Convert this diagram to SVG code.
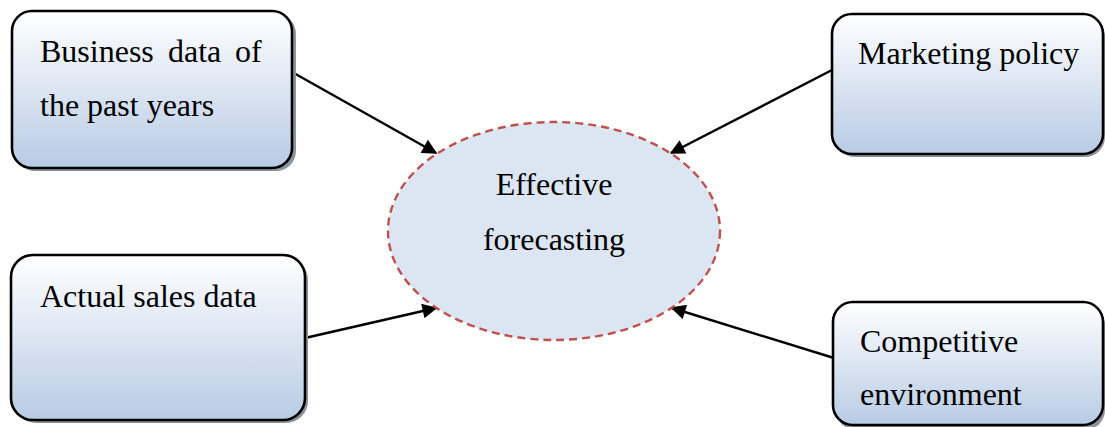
<svg xmlns="http://www.w3.org/2000/svg" width="1105" height="427" viewBox="0 0 1105 427">
  <style>
    .box { fill: url(#boxFill); stroke: #000; stroke-width: 2.6; }
    .shadow { fill: #8c949e; }
    .label { font-family: "Liberation Serif", "Times New Roman", serif; font-size: 32px; fill: #000; }
    .link { stroke: #000; stroke-width: 2.4; fill: none; marker-end: url(#arrow); }
  </style>
  <defs>
    <linearGradient id="boxFill" x1="0" y1="0" x2="0" y2="1">
      <stop offset="0" stop-color="#ffffff"/>
      <stop offset="0.35" stop-color="#e6edf6"/>
      <stop offset="1" stop-color="#b8cbe4"/>
    </linearGradient>
    <marker id="arrow" viewBox="0 0 10 10" refX="9" refY="5" markerWidth="18" markerHeight="15" markerUnits="userSpaceOnUse" orient="auto">
      <path d="M0,0 L10,5 L0,10 z" fill="#000"/>
    </marker>
  </defs>

  <!-- connectors -->
  <g id="connectors">
    <line class="link" x1="292" y1="72" x2="436" y2="153"/>
    <line class="link" x1="832" y1="70" x2="671" y2="153"/>
    <line class="link" x1="305" y1="338" x2="436" y2="308"/>
    <line class="link" x1="834" y1="358" x2="672" y2="308"/>
  </g>

  <!-- centre ellipse -->
  <g id="effective-forecasting">
    <ellipse cx="554" cy="231" rx="166" ry="109" fill="#dce6f2" stroke="#c0504d" stroke-width="2.4" stroke-dasharray="8,5"/>
    <text class="label" x="554" y="195" text-anchor="middle">Effective</text>
    <text class="label" x="554" y="250" text-anchor="middle">forecasting</text>
  </g>

  <g id="business-data">
    <rect class="shadow" x="15" y="14" width="281" height="157" rx="20"/>
    <rect class="box" x="12" y="11" width="280" height="157" rx="20"/>
    <text class="label" x="40" y="62">Business</text>
    <text class="label" x="168" y="62">data</text>
    <text class="label" x="235" y="62">of</text>
    <text class="label" x="40" y="116">the past years</text>
  </g>

  <g id="marketing-policy">
    <rect class="shadow" x="835" y="17" width="270" height="140" rx="20"/>
    <rect class="box" x="832" y="14" width="271" height="140" rx="20"/>
    <text class="label" x="858" y="64">Marketing policy</text>
  </g>

  <g id="actual-sales">
    <rect class="shadow" x="14" y="258" width="294" height="165" rx="22"/>
    <rect class="box" x="11" y="255" width="294" height="165" rx="22"/>
    <text class="label" x="40" y="307">Actual sales data</text>
  </g>

  <g id="competitive-environment">
    <rect class="shadow" x="836" y="305" width="269" height="125" rx="20"/>
    <rect class="box" x="833" y="302" width="270" height="123" rx="20"/>
    <text class="label" x="860" y="352">Competitive</text>
    <text class="label" x="860" y="405">environment</text>
  </g>
</svg>
